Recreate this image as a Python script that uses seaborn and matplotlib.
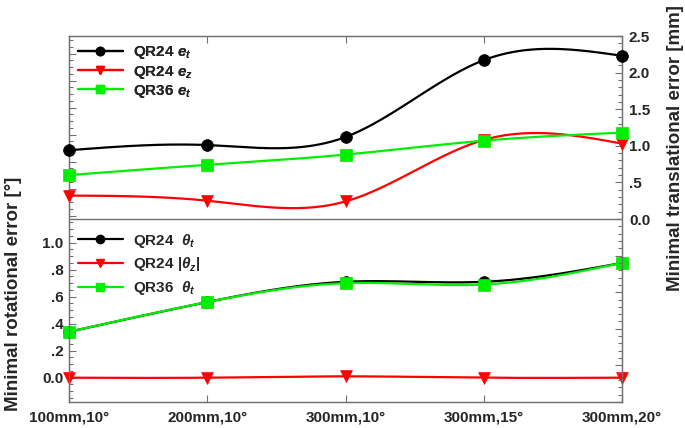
import numpy as np
import pandas as pd
import matplotlib
matplotlib.use("Agg")
import matplotlib.pyplot as plt
import seaborn as sns
from matplotlib.lines import Line2D
from matplotlib.ticker import FixedLocator, MultipleLocator

# ---- data ----
conditions = ["100mm,10°", "200mm,10°", "300mm,10°", "300mm,15°", "300mm,20°"]

# translational error [mm] (upper panel, right axis)
qr24_et = [0.94, 1.01, 1.12, 2.17, 2.23]
qr24_ez = [0.32, 0.25, 0.24, 1.08, 1.03]
qr36_et = [0.60, 0.74, 0.88, 1.07, 1.18]

# rotational error [deg] (lower panel, left axis)
qr24_theta_t = [0.34, 0.56, 0.71, 0.71, 0.85]
qr24_theta_z = [0.00, 0.00, 0.01, 0.00, 0.00]
qr36_theta_t = [0.34, 0.56, 0.70, 0.69, 0.85]

left_ticks = [0.0, 0.2, 0.4, 0.6, 0.8, 1.0]
left_ticklabels = ["0.0", ".2", ".4", ".6", ".8", "1.0"]
right_ticks = [0.0, 0.5, 1.0, 1.5, 2.0, 2.5]
right_ticklabels = ["0.0", ".5", "1.0", "1.5", "2.0", "2.5"]

BLACK, RED, GREEN = "black", "#ff0000", "#00ee00"
FRAME = "#707070"


def natural_spline(x, y, num=300):
    """Smooth curve through the points (like Origin's spline connector)."""
    x = np.asarray(x, float)
    y = np.asarray(y, float)
    n = len(x)
    h = np.diff(x)
    A = np.zeros((n, n))
    b = np.zeros(n)
    A[0, 0] = A[-1, -1] = 1
    for i in range(1, n - 1):
        A[i, i - 1] = h[i - 1]
        A[i, i] = 2 * (h[i - 1] + h[i])
        A[i, i + 1] = h[i]
        b[i] = 6 * ((y[i + 1] - y[i]) / h[i] - (y[i] - y[i - 1]) / h[i - 1])
    M = np.linalg.solve(A, b)
    xs = np.linspace(x[0], x[-1], num)
    idx = np.clip(np.searchsorted(x, xs) - 1, 0, n - 2)
    x0, x1 = x[idx], x[idx + 1]
    hh = x1 - x0
    t0, t1 = x1 - xs, xs - x0
    ys = ((M[idx] * t0 ** 3 + M[idx + 1] * t1 ** 3) / (6 * hh)
          + (y[idx] / hh - M[idx] * hh / 6) * t0
          + (y[idx + 1] / hh - M[idx + 1] * hh / 6) * t1)
    return xs, ys


def draw_series(ax, values, color, marker, msize, z):
    xpos = np.arange(len(conditions))
    xs, ys = natural_spline(xpos, values)
    sns.lineplot(x=xs, y=ys, ax=ax, color=color, lw=1.6, zorder=z, sort=False)
    sns.scatterplot(x=xpos, y=values, ax=ax, color=color, marker=marker,
                    s=msize ** 2, edgecolor=color, linewidth=0.5, zorder=z + 0.5,
                    clip_on=False)


sns.set_style("ticks")
plt.rcParams["font.family"] = ["Liberation Sans", "DejaVu Sans"]
plt.rcParams["font.weight"] = "bold"
plt.rcParams["mathtext.fontset"] = "custom"
plt.rcParams["mathtext.it"] = "Liberation Sans:bold:italic"
plt.rcParams["mathtext.rm"] = "Liberation Sans:bold"
plt.rcParams["mathtext.bf"] = "Liberation Sans:bold"

fig = plt.figure(figsize=(6.85, 4.28), dpi=100)
ax = fig.add_axes([69 / 685, 1 - 402 / 428, 553 / 685, 366 / 428])
ax2 = ax.twinx()

# lower panel: rotational error on the left axis
draw_series(ax, qr24_theta_t, BLACK, "o", 8.5, 3)
draw_series(ax, qr24_theta_z, RED, "v", 8.5, 4)
draw_series(ax, qr36_theta_t, GREEN, "s", 8, 5)

# upper panel: translational error on the right axis
draw_series(ax2, qr24_et, BLACK, "o", 8.5, 3)
draw_series(ax2, qr24_ez, RED, "v", 8.5, 4)
draw_series(ax2, qr36_et, GREEN, "s", 8, 5)
ax2.axhline(0, color=FRAME, lw=1.0, zorder=1)

ax.set_xlim(0, len(conditions) - 1)
ax.set_ylim(-0.18, 2.53)
ax2.set_ylim(-2.5, 2.5)

ax.set_xticks(range(len(conditions)))
ax.set_xticklabels(conditions, fontsize=11, fontweight="bold")

ax.yaxis.set_major_locator(FixedLocator(np.arange(0, 2.5, 0.2)))
ax.yaxis.set_minor_locator(MultipleLocator(0.05))
ax.set_yticklabels(left_ticklabels + [""] * (len(np.arange(0, 2.5, 0.2)) - len(left_ticks)),
                   fontsize=11, fontweight="bold")

ax2.yaxis.set_major_locator(FixedLocator(np.arange(-2.5, 2.51, 0.5)))
ax2.yaxis.set_minor_locator(MultipleLocator(0.1))
n_neg = len(np.arange(-2.5, -0.01, 0.5))
ax2.set_yticklabels([""] * n_neg + right_ticklabels, fontsize=11, fontweight="bold")

for a in (ax, ax2):
    for sp in a.spines.values():
        sp.set_color(FRAME)
        sp.set_linewidth(0.9)
    a.tick_params(which="both", direction="in", color=FRAME, width=0.8)
    a.tick_params(which="major", length=5)
    a.tick_params(which="minor", length=3)
    a.set_ylabel("")
    a.set_xlabel("")
ax.tick_params(axis="x", top=True, pad=6)
ax.tick_params(axis="y", which="both", left=True, right=False, pad=4)
ax2.tick_params(axis="y", which="both", right=True, left=False, pad=5)

fig.text(13.5 / 685, 1 - 294 / 428, "Minimal rotational error [°]", rotation=90,
         ha="center", va="center", fontsize=13.5, fontweight="bold")
fig.text(676 / 685, 1 - 148 / 428, "Minimal translational error [mm]", rotation=90,
         ha="center", va="center", fontsize=13.5, fontweight="bold")


def handle(color, marker):
    return Line2D([], [], color=color, lw=1.6, marker=marker, markersize=6,
                  markeredgecolor=color)


leg_kw = dict(frameon=False, fontsize=11, handlelength=2.95, handletextpad=0.65,
              borderpad=0, borderaxespad=0, numpoints=1, loc="center left")
top_leg = ax2.legend([handle(BLACK, "o"), handle(RED, "v"), handle(GREEN, "s")],
                     [r"QR24 $e_t$", r"QR24 $e_z$", r"QR36 $e_t$"],
                     bbox_to_anchor=(0.016, 0.9016), labelspacing=0.15, **leg_kw)
ax2.add_artist(top_leg)
ax.legend([handle(BLACK, "o"), handle(RED, "v"), handle(GREEN, "s")],
          [r"QR24  $\theta_t$", r"QR24 $\left|\theta_z\right|$", r"QR36  $\theta_t$"],
          bbox_to_anchor=(0.016, 0.3757), labelspacing=0.35, **leg_kw)

fig.savefig("out.png", dpi=100)
